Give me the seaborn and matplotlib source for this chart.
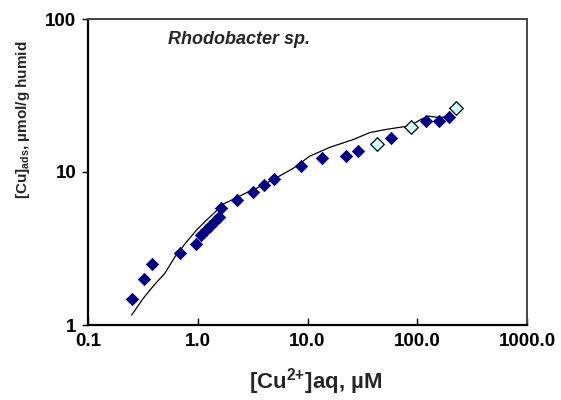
import matplotlib
matplotlib.use("Agg")
import matplotlib.pyplot as plt
import seaborn as sns
import pandas as pd
from matplotlib.ticker import FixedLocator, FixedFormatter, NullLocator

# Measured data (dark diamonds)
obs_x = [0.25, 0.324, 0.385, 0.688, 0.957, 1.07, 1.19, 1.29, 1.44, 1.56, 1.63,
         2.29, 3.2, 4.0, 4.98, 8.7, 13.6, 22.2, 28.6, 57.5, 119, 158, 195]
obs_y = [1.48, 1.99, 2.49, 2.94, 3.37, 3.87, 4.18, 4.44, 4.81, 5.1, 5.84,
         6.53, 7.4, 8.2, 9.0, 10.9, 12.3, 12.8, 13.7, 16.6, 21.5, 21.5, 23.0]

# Light (open) diamonds
alt_x = [42.6, 86.9, 224]
alt_y = [15.2, 19.8, 26.3]

# Model curve
fit_x = [0.25, 0.319, 0.394, 0.502, 0.62, 0.792, 0.977, 1.205, 1.486, 1.71, 2.11,
         2.79, 3.68, 5.22, 7.41, 10.5, 16.0, 26.1, 37.0, 52.5, 69.5, 85.7, 106,
         126, 150, 172, 198]
fit_y = [1.163, 1.494, 1.80, 2.18, 2.79, 3.50, 4.18, 4.86, 5.59, 6.18, 6.63,
         7.33, 8.02, 9.18, 10.57, 12.7, 14.5, 16.3, 18.1, 19.0, 19.6, 20.0, 21.9,
         23.2, 22.8, 22.8, 23.6]

x_ticks = [0.1, 1, 10, 100, 1000]
x_tick_labels = ["0.1", "1.0", "10.0", "100.0", "1000.0"]
y_ticks = [1, 10, 100]
y_tick_labels = ["1", "10", "100"]

sns.set_style("white")
plt.rcParams['font.family'] = ['Liberation Sans', 'DejaVu Sans']
plt.rcParams['font.weight'] = 'bold'
plt.rcParams['mathtext.fontset'] = 'custom'
plt.rcParams['mathtext.rm'] = 'Liberation Sans:bold'
plt.rcParams['mathtext.bf'] = 'Liberation Sans:bold'
plt.rcParams['mathtext.it'] = 'Liberation Sans:bold:italic'
plt.rcParams['mathtext.default'] = 'rm'

fig = plt.figure(figsize=(5.61, 4.0), dpi=100)
ax = fig.add_axes([88/561, 75/400, 439/561, 306/400])

df_obs = pd.DataFrame({"x": obs_x, "y": obs_y})
df_alt = pd.DataFrame({"x": alt_x, "y": alt_y})
df_fit = pd.DataFrame({"x": fit_x, "y": fit_y})

sns.lineplot(data=df_fit, x="x", y="y", sort=False, color="black", lw=0.9, ax=ax, zorder=2)
sns.scatterplot(data=df_obs, x="x", y="y", marker="D", s=40, color="#000080",
                edgecolor="#000080", linewidth=0.5, ax=ax, zorder=3)
sns.scatterplot(data=df_alt, x="x", y="y", marker="D", s=48, color="#CCFFFF",
                edgecolor="black", linewidth=0.9, ax=ax, zorder=4)

ax.set_xscale("log")
ax.set_yscale("log")
ax.set_xlim(0.1, 1000)
ax.set_ylim(1, 100)

ax.xaxis.set_major_locator(FixedLocator(x_ticks))
ax.xaxis.set_major_formatter(FixedFormatter(x_tick_labels))
ax.yaxis.set_major_locator(FixedLocator(y_ticks))
ax.yaxis.set_major_formatter(FixedFormatter(y_tick_labels))
ax.xaxis.set_minor_locator(NullLocator())
ax.yaxis.set_minor_locator(NullLocator())

ax.tick_params(axis="x", direction="in", length=5, width=1, pad=6,
               labelsize=13.5, colors="black", bottom=True)
ax.tick_params(axis="y", direction="out", length=4.5, width=1, pad=4,
               labelsize=13.5, colors="black", left=True)
for lab in ax.get_xticklabels() + ax.get_yticklabels():
    lab.set_fontweight("bold")

for side in ["left", "bottom"]:
    ax.spines[side].set_color("black")
    ax.spines[side].set_linewidth(1.6)
for side in ["top", "right"]:
    ax.spines[side].set_visible(True)
    ax.spines[side].set_color("#444444")
    ax.spines[side].set_linewidth(1.4)

ax.set_xlabel("")
ax.set_ylabel("")
fig.text(316/561, 1 - 382/400, r"[Cu$^{2{+}}$]aq, µM", fontsize=16,
         fontweight="bold", ha="center", va="center")
fig.text(23/561, 1 - 120/400, r"[Cu]$_{ads}$, µmol/g humid", fontsize=11,
         fontweight="bold", ha="center", va="center", rotation=90)

fig.text(168/561, 1 - 40/400, "Rhodobacter sp.", fontsize=13,
         fontweight="bold", fontstyle="italic", va="center", ha="left")

fig.savefig("out.png", dpi=100)
